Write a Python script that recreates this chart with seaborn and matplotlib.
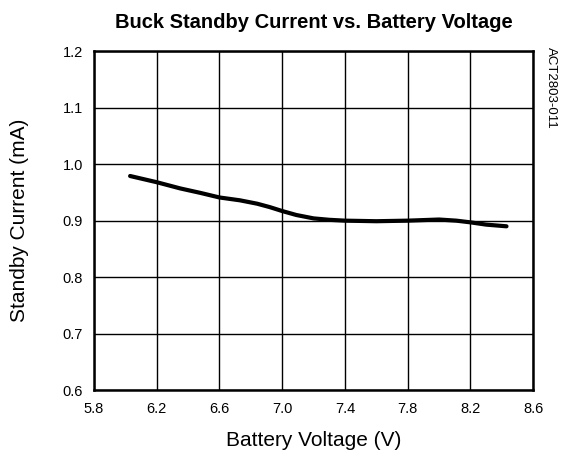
import numpy as np
import pandas as pd
import seaborn as sns
import matplotlib.pyplot as plt

voltage = [6.03, 6.2, 6.35, 6.48, 6.6, 6.73, 6.84, 6.92, 7.0, 7.09, 7.2, 7.3, 7.4,
           7.6, 7.8, 8.0, 8.11, 8.2, 8.3, 8.43]
current = [0.979, 0.968, 0.957, 0.949, 0.941, 0.936, 0.930, 0.924, 0.917, 0.910, 0.904, 0.9015, 0.900,
           0.899, 0.900, 0.902, 0.900, 0.897, 0.893, 0.890]
x_ticks = [5.8, 6.2, 6.6, 7.0, 7.4, 7.8, 8.2, 8.6]
y_ticks = [0.6, 0.7, 0.8, 0.9, 1.0, 1.1, 1.2]

df = pd.DataFrame({"voltage": voltage, "current": current})

sns.set_style("white")
plt.rcParams['font.family'] = ['Liberation Sans', 'DejaVu Sans']
plt.rcParams['text.color'] = 'black'
plt.rcParams['axes.labelcolor'] = 'black'
plt.rcParams['xtick.color'] = 'black'
plt.rcParams['ytick.color'] = 'black'

fig = plt.figure(figsize=(5.63, 4.73), dpi=100)
ax = fig.add_axes([0.167, 0.175, 0.78, 0.717])

sns.lineplot(data=df, x="voltage", y="current", ax=ax, color="black", linewidth=3.0)

ax.set_xlim(5.8, 8.6)
ax.set_ylim(0.6, 1.2)
ax.set_xticks(x_ticks)
ax.set_xticklabels([f"{v:.1f}" for v in x_ticks])
ax.set_yticks(y_ticks)
ax.set_yticklabels([f"{v:.1f}" for v in y_ticks])
ax.grid(True, color="black", linewidth=1.0)
ax.tick_params(axis="both", length=0, labelsize=10.5)
ax.tick_params(axis="x", pad=8.5)
ax.tick_params(axis="y", pad=8)
for s in ax.spines.values():
    s.set_color("black")
    s.set_linewidth(1.8)

ax.set_xlabel("Battery Voltage (V)", fontsize=15, va="center")
ax.xaxis.set_label_coords(0.5, -0.147)
ax.set_ylabel("Standby Current (mA)", fontsize=15, va="center")
ax.yaxis.set_label_coords(-0.169, 0.5)
fig.text(0.557, 1 - 22 / 473, "Buck Standby Current vs. Battery Voltage",
         fontsize=14.5, fontweight="bold", ha="center", va="center")
fig.text(0.968, 0.9, "ACT2803-011", rotation=-90, fontsize=9.5, va="top", ha="left")

fig.savefig("out.png", dpi=100)
